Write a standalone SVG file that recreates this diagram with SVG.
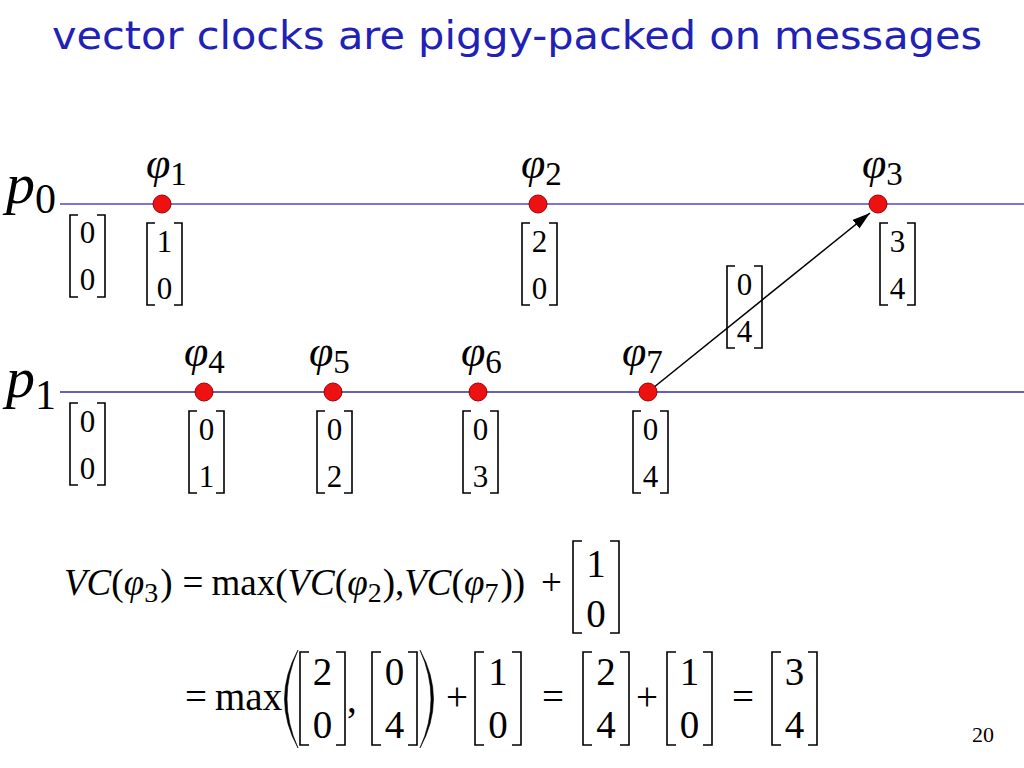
<svg xmlns="http://www.w3.org/2000/svg" width="1024" height="768" viewBox="0 0 1024 768">
<style>
.t{font-family:"Liberation Serif","Times New Roman",serif;fill:#000}
.i{font-style:italic}
.d{font-family:"Liberation Serif","Times New Roman",serif;font-size:31px;text-anchor:middle;fill:#000}
.fd{font-family:"Liberation Serif","Times New Roman",serif;font-size:39px;text-anchor:middle;fill:#000}
.br{fill:none;stroke:#000;stroke-width:1.6}
.dot{fill:#ee1111;stroke:#a00000;stroke-width:1}
.lbl{font-family:"Liberation Serif","Times New Roman",serif;font-size:44px;font-style:italic;fill:#000}
.sub{font-size:33px;font-style:normal}
.pl{font-family:"Liberation Serif","Times New Roman",serif;font-size:58px;font-style:italic;fill:#000}
.psub{font-size:42px;font-style:normal}
.f{font-family:"Liberation Serif","Times New Roman",serif;font-size:39px;fill:#000}
.f1{font-family:"Liberation Serif","Times New Roman",serif;font-size:37px;fill:#000}
.fs{font-size:28px;font-style:normal}
</style>
<defs>
<marker id="ah" viewBox="0 0 18 11" refX="18" refY="5.5" markerWidth="18" markerHeight="11" markerUnits="userSpaceOnUse" orient="auto">
<path d="M0,0 L18,5.5 L0,11 Z" fill="#000"/>
</marker>
</defs>
<rect width="1024" height="768" fill="#fff"/>
<text x="52" y="49" font-family="DejaVu Sans, sans-serif" font-size="39" fill="#2121b5" textLength="930" lengthAdjust="spacingAndGlyphs">vector clocks are piggy-packed on messages</text>

<g id="timelines">
<line x1="60" y1="204" x2="1024" y2="204" stroke="#4a4ad0" stroke-width="1.3"/>
<line x1="60" y1="392" x2="1024" y2="392" stroke="#2e2ea0" stroke-width="1.3"/>
<text class="pl" x="6" y="203">p<tspan class="psub" y="213">0</tspan></text>
<text class="pl" x="6" y="397">p<tspan class="psub" y="409">1</tspan></text>
</g>

<g id="connectors">
<line x1="648" y1="392" x2="870" y2="213" stroke="#000" stroke-width="1.5" marker-end="url(#ah)"/>
</g>

<g id="init0">
<path class="br" d="M78,215 H70 V297 H78 M97,215 H105 V297 H97"/>
<text class="d" x="87.5" y="243">0</text><text class="d" x="87.5" y="290">0</text>
</g>
<g id="e1">
<circle class="dot" cx="162" cy="204" r="9"/>
<text class="lbl" x="146" y="178">φ<tspan class="sub" y="185">1</tspan></text>
<path class="br" d="M155,223 H147 V305 H155 M174,223 H182 V305 H174"/>
<text class="d" x="164.5" y="252">1</text><text class="d" x="164.5" y="299">0</text>
</g>
<g id="e2">
<circle class="dot" cx="538" cy="204" r="9"/>
<text class="lbl" x="521" y="178">φ<tspan class="sub" y="185">2</tspan></text>
<path class="br" d="M530,223 H522 V305 H530 M549,223 H557 V305 H549"/>
<text class="d" x="539.5" y="252">2</text><text class="d" x="539.5" y="299">0</text>
</g>
<g id="e3">
<circle class="dot" cx="878" cy="204" r="9"/>
<text class="lbl" x="862" y="178">φ<tspan class="sub" y="185">3</tspan></text>
<path class="br" d="M888,223 H880 V305 H888 M907,223 H915 V305 H907"/>
<text class="d" x="897.5" y="252">3</text><text class="d" x="897.5" y="299">4</text>
</g>
<g id="msg">
<path class="br" d="M735,266 H727 V348 H735 M754,266 H762 V348 H754"/>
<text class="d" x="744.5" y="295">0</text><text class="d" x="744.5" y="342">4</text>
</g>
<g id="init1">
<path class="br" d="M78,403 H70 V485 H78 M97,403 H105 V485 H97"/>
<text class="d" x="87.5" y="432">0</text><text class="d" x="87.5" y="479">0</text>
</g>
<g id="e4">
<circle class="dot" cx="204" cy="392" r="9"/>
<text class="lbl" x="184" y="366">φ<tspan class="sub" y="373">4</tspan></text>
<path class="br" d="M197,411 H189 V493 H197 M216,411 H224 V493 H216"/>
<text class="d" x="206.5" y="440">0</text><text class="d" x="206.5" y="487">1</text>
</g>
<g id="e5">
<circle class="dot" cx="333" cy="392" r="9"/>
<text class="lbl" x="309" y="366">φ<tspan class="sub" y="373">5</tspan></text>
<path class="br" d="M325,411 H317 V493 H325 M344,411 H352 V493 H344"/>
<text class="d" x="334.5" y="440">0</text><text class="d" x="334.5" y="487">2</text>
</g>
<g id="e6">
<circle class="dot" cx="478" cy="392" r="9"/>
<text class="lbl" x="461" y="366">φ<tspan class="sub" y="373">6</tspan></text>
<path class="br" d="M471,411 H463 V493 H471 M490,411 H498 V493 H490"/>
<text class="d" x="480.5" y="440">0</text><text class="d" x="480.5" y="487">3</text>
</g>
<g id="e7">
<circle class="dot" cx="648" cy="392" r="9"/>
<text class="lbl" x="622" y="366">φ<tspan class="sub" y="373">7</tspan></text>
<path class="br" d="M641,411 H633 V493 H641 M660,411 H668 V493 H660"/>
<text class="d" x="650.5" y="440">0</text><text class="d" x="650.5" y="487">4</text>
</g>

<g id="formula1">
<text class="f1" x="64" y="595" textLength="498" lengthAdjust="spacingAndGlyphs"><tspan class="i">VC</tspan>(<tspan class="i">φ</tspan><tspan class="fs" dy="7">3</tspan><tspan dy="-7" dx="2">)</tspan><tspan dx="10">=</tspan><tspan dx="8">max(</tspan><tspan class="i">VC</tspan>(<tspan class="i">φ</tspan><tspan class="fs" dy="7">2</tspan><tspan dy="-7" dx="1">),</tspan><tspan class="i">VC</tspan>(<tspan class="i">φ</tspan><tspan class="fs" dy="7">7</tspan><tspan dy="-7" dx="2">))</tspan><tspan dx="16">+</tspan></text>
<path class="br" d="M582,541 H573 V633 H582 M610,541 H619 V633 H610"/>
<text class="fd" x="596" y="577">1</text><text class="fd" x="596" y="627">0</text>
</g>

<g id="formula2">
<text class="f" x="185" y="710">=<tspan dx="8">max</tspan></text>
<path d="M298,650 Q271,699 298,748 Q276,699 298,650 Z" fill="#000" stroke="#000" stroke-width="0.6"/>
<path class="br" d="M309,652 H300 V745 H309 M336,652 H345 V745 H336"/>
<text class="fd" x="322.5" y="685">2</text><text class="fd" x="322.5" y="738">0</text>
<text class="f" x="347" y="712">,</text>
<path class="br" d="M381,652 H372 V745 H381 M408,652 H417 V745 H408"/>
<text class="fd" x="394.5" y="685">0</text><text class="fd" x="394.5" y="738">4</text>
<path d="M420,650 Q447,699 420,748 Q442,699 420,650 Z" fill="#000" stroke="#000" stroke-width="0.6"/>
<text class="f" x="446" y="710">+</text>
<path class="br" d="M484,652 H475 V745 H484 M512,652 H521 V745 H512"/>
<text class="fd" x="498" y="685">1</text><text class="fd" x="498" y="738">0</text>
<text class="f" x="542" y="710">=</text>
<path class="br" d="M592,652 H583 V745 H592 M620,652 H629 V745 H620"/>
<text class="fd" x="606" y="685">2</text><text class="fd" x="606" y="738">4</text>
<text class="f" x="636" y="710">+</text>
<path class="br" d="M676,652 H667 V745 H676 M703,652 H712 V745 H703"/>
<text class="fd" x="689.5" y="685">1</text><text class="fd" x="689.5" y="738">0</text>
<text class="f" x="732" y="710">=</text>
<path class="br" d="M781,652 H772 V745 H781 M808,652 H817 V745 H808"/>
<text class="fd" x="794.5" y="685">3</text><text class="fd" x="794.5" y="738">4</text>
</g>
<text class="t" x="972" y="742" font-size="22">20</text>
</svg>
